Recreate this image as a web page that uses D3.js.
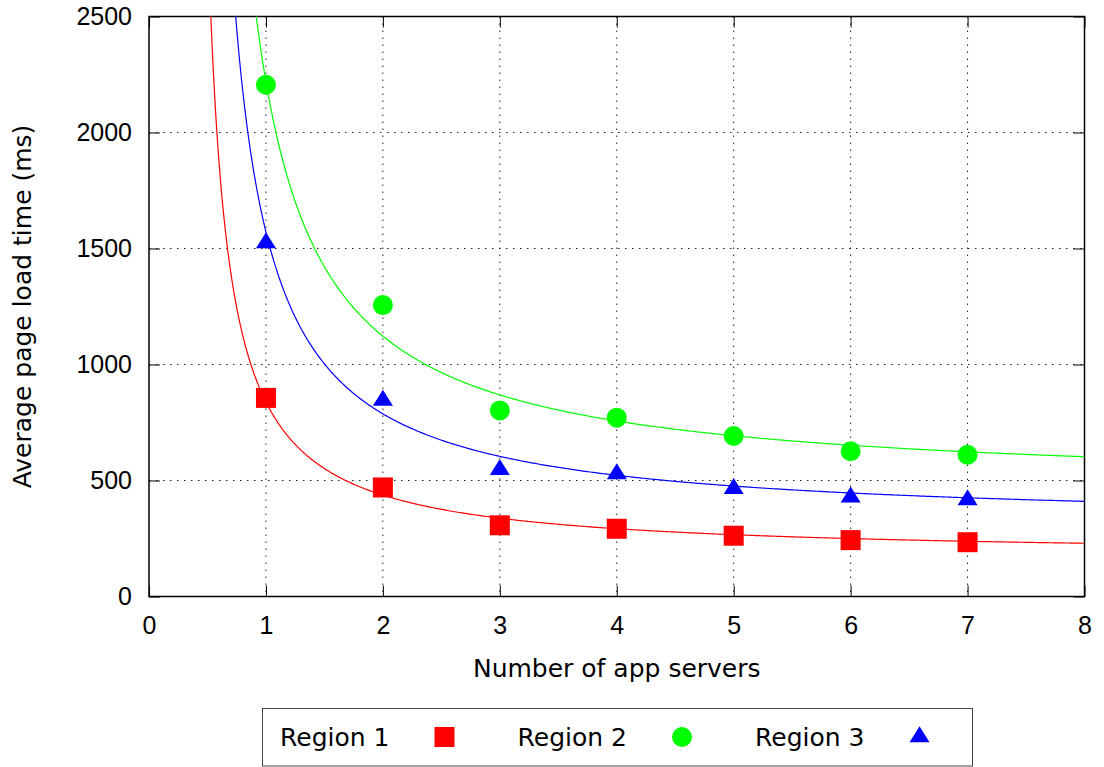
<!DOCTYPE html>
<html lang="en">
<head>
<meta charset="UTF-8">
<title>Average page load time vs app servers</title>
<script src="https://d3js.org/d3.v7.min.js"></script>
<style>
  html, body { margin: 0; padding: 0; background: #fff; }
  svg { display: block; font-family: "DejaVu Sans", sans-serif; }
  .tick text { font-size: 25px; fill: #000; }
  .grid line { stroke: #222; stroke-width: 1; stroke-dasharray: 1.5 5.5; }
</style>
</head>
<body>
<svg id="chart" width="1104" height="767"></svg>
<script>
// measured values
const servers = [1, 2, 3, 4, 5, 6, 7];
const region1 = [856, 470, 307, 292, 262, 243, 234];
const region2 = [2206, 1256, 802, 771, 692, 626, 611];
const region3 = [1524, 845, 547, 528, 465, 428, 416];

const seriesNames = ["Region 1", "Region 2", "Region 3"];
const seriesColors = ["#ff0000", "#00ff00", "#0000ff"];
const seriesShapes = ["square", "circle", "triangle"];

// fitted curves y = a / (x - d) + b, one per region
const fitA = [440, 1053, 770];
const fitD = [0.34, 0.40, 0.39];
const fitB = [172, 464, 309];

const xTicks = [0, 1, 2, 3, 4, 5, 6, 7, 8];
const yTicks = [0, 500, 1000, 1500, 2000, 2500];

const svg = d3.select("#chart");
const pl = 149, pr = 1084.5, pt = 16.5, pb = 596.5;

const x = d3.scaleLinear().domain([0, 8]).range([pl, pr]);
const y = d3.scaleLinear().domain([0, 2500]).range([pb, pt]);

// dotted grid
const grid = svg.append("g").attr("class", "grid");
grid.selectAll(".gx").data(xTicks.slice(1, -1)).enter().append("line")
    .attr("x1", d => x(d)).attr("x2", d => x(d))
    .attr("y1", pt).attr("y2", pb);
grid.selectAll(".gy").data(yTicks.slice(1, -1)).enter().append("line")
    .attr("x1", pl).attr("x2", pr)
    .attr("y1", d => y(d)).attr("y2", d => y(d));

// axes with inward ticks, mirrored on top and right
const tick = 11;
svg.append("g").attr("transform", `translate(0,${pb})`)
    .call(d3.axisBottom(x).tickValues(xTicks).tickFormat(d3.format("d")).tickSize(-tick).tickPadding(20));
svg.append("g").attr("transform", `translate(${pl},0)`)
    .call(d3.axisLeft(y).tickValues(yTicks).tickFormat(d3.format("d")).tickSize(-tick).tickPadding(17));
svg.append("g").attr("transform", `translate(0,${pt})`)
    .call(d3.axisTop(x).tickValues(xTicks).tickFormat("").tickSize(-tick));
svg.append("g").attr("transform", `translate(${pr},0)`)
    .call(d3.axisRight(y).tickValues(yTicks).tickFormat("").tickSize(-tick));
svg.selectAll(".domain").remove();
svg.selectAll(".tick line").attr("stroke", "#000").attr("stroke-width", 1);

// frame
svg.append("rect")
    .attr("x", pl).attr("y", pt)
    .attr("width", pr - pl).attr("height", pb - pt)
    .attr("fill", "none").attr("stroke", "#000").attr("stroke-width", 1.5);

// clip for fit curves
svg.append("clipPath").attr("id", "plotclip").append("rect")
    .attr("x", pl).attr("y", pt)
    .attr("width", pr - pl).attr("height", pb - pt);

const line = d3.line().x(d => x(d[0])).y(d => y(d[1]));
seriesNames.forEach((name, i) => {
  const pts = [];
  const x0 = fitD[i] + fitA[i] / 3500;
  for (let k = 0; k <= 600; k++) {
    const xv = x0 + (8 - x0) * Math.pow(k / 600, 1.6);
    pts.push([xv, fitA[i] / (xv - fitD[i]) + fitB[i]]);
  }
  svg.append("path").datum(pts)
      .attr("clip-path", "url(#plotclip)")
      .attr("fill", "none")
      .attr("stroke", seriesColors[i])
      .attr("stroke-width", 1.2)
      .attr("d", line);
});

function marker(g, shape, color) {
  if (shape === "square") {
    g.append("rect").attr("x", -10).attr("y", -10).attr("width", 20).attr("height", 20).attr("fill", color);
  } else if (shape === "circle") {
    g.append("circle").attr("r", 10).attr("fill", color);
  } else {
    g.append("path").attr("d", "M0,-10.7L10,5.3L-10,5.3Z").attr("fill", color);
  }
}

const values = [region1, region2, region3];
values.forEach((vals, i) => {
  svg.append("g").selectAll("g").data(vals).enter().append("g")
      .attr("transform", (d, j) => `translate(${x(servers[j])},${y(d)})`)
      .each(function () { marker(d3.select(this), seriesShapes[i], seriesColors[i]); });
});

// axis titles
svg.append("text")
    .attr("x", (pl + pr) / 2).attr("y", 677)
    .attr("text-anchor", "middle").attr("font-size", "25px")
    .text("Number of app servers");
svg.append("text")
    .attr("transform", `translate(31,${(pt + pb) / 2}) rotate(-90)`)
    .attr("text-anchor", "middle").attr("font-size", "25px")
    .text("Average page load time (ms)");

// legend
const legend = svg.append("g");
legend.append("rect")
    .attr("x", 262.5).attr("y", 708.5).attr("width", 710).attr("height", 57.5)
    .attr("fill", "none").attr("stroke", "#444").attr("stroke-width", 1);
seriesNames.forEach((name, i) => {
  const gx = 280 + i * 237.5;
  legend.append("text").attr("x", gx).attr("y", 746)
      .attr("font-size", "25px").text(name);
  const m = legend.append("g").attr("transform", `translate(${gx + 164.5},737)`);
  marker(m, seriesShapes[i], seriesColors[i]);
});
</script>
</body>
</html>
